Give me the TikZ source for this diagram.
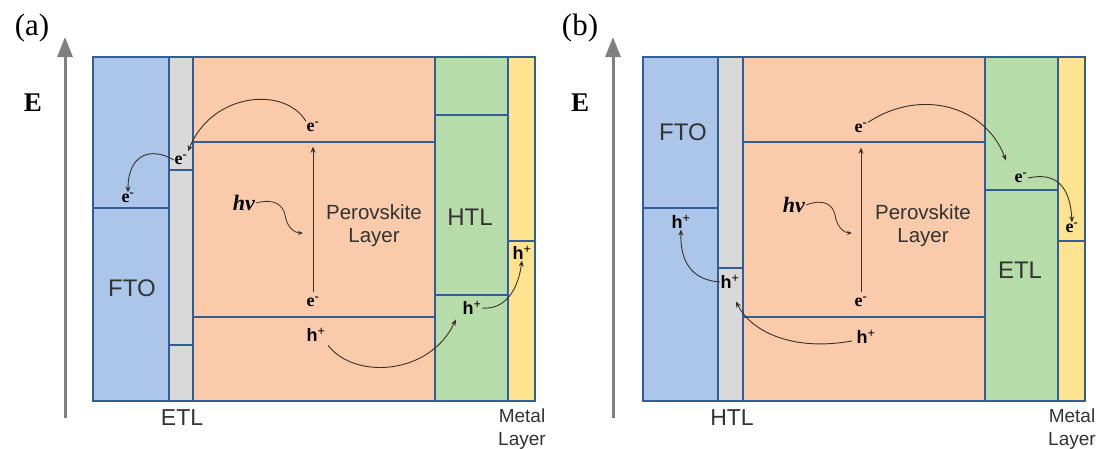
\documentclass[tikz,border=0pt]{standalone}
\usepackage{fontspec}
\setmainfont{Liberation Serif}
\setsansfont{Liberation Sans}
\usetikzlibrary{arrows.meta}
\definecolor{ftoc}{HTML}{ABC6E8}
\definecolor{etlg}{HTML}{D9D9D9}
\definecolor{perc}{HTML}{F9CBAA}
\definecolor{htlc}{HTML}{B6DDA9}
\definecolor{metc}{HTML}{FFE38F}
\definecolor{bordc}{HTML}{2F5E99}
\definecolor{axc}{HTML}{808080}
\definecolor{arrc}{HTML}{3B2F2A}
\definecolor{txtc}{HTML}{333333}
\newcommand{\myem}{\textbf{e}\textsuperscript{\textbf{-}}}
\newcommand{\myhp}{\textsf{\textbf{h}\textsuperscript{+}}}
\newcommand{\myhv}{\textbf{\textit{hv}}}
\tikzset{
  layer/.style={draw=bordc, line width=2pt},
  lvl/.style={draw=bordc, line width=2pt},
  axis/.style={draw=axc, line width=3pt, -{Triangle[length=20pt,width=15pt]}},
  car/.style={inner sep=0.5pt, font=\fontsize{18}{20}\selectfont, text=black},
  lab/.style={inner sep=0pt, font=\sffamily\fontsize{24}{26}\selectfont, text=txtc},
  blab/.style={inner sep=0pt, font=\sffamily\fontsize{23}{26}\selectfont, text=txtc},
  plab/.style={inner sep=0pt, align=center, font=\sffamily\fontsize{20.5}{23}\selectfont, text=txtc},
  mlab/.style={inner sep=0pt, align=center, font=\sffamily\fontsize{19}{23}\selectfont, text=txtc},
  elab/.style={inner sep=0pt, font=\bfseries\fontsize{27}{29}\selectfont},
  panel/.style={inner sep=0pt, font=\fontsize{31}{33}\selectfont},
  hvl/.style={inner sep=1pt, font=\fontsize{22}{24}\selectfont},
  flow/.style={draw=arrc, line width=0.9pt, -{Stealth[length=6pt,width=5pt]}},
}
\begin{document}
\begin{tikzpicture}[x=1pt,y=-1pt]
\useasboundingbox[fill=white] (0,0) rectangle (1098,448);

% ================= panel (a) =================
\node[panel] (pa) at (32,28) {(a)};
\node[elab] (Ea) at (33,103) {E};
\coordinate (axa0) at (65,418);
\coordinate (axa1) at (65,37);
\draw[axis] (axa0) -- (axa1);

% columns
\filldraw[fill=ftoc, layer] (93,57) rectangle (169,401);
\filldraw[fill=etlg, layer] (169,57) rectangle (193,401);
\filldraw[fill=perc, layer] (193,57) rectangle (435,401);
\filldraw[fill=htlc, layer] (435,57) rectangle (508,401);
\filldraw[fill=metc, layer] (508,57) rectangle (535,401);
% levels
\draw[lvl] (93,208) -- (169,208);
\draw[lvl] (169,170) -- (193,170);
\draw[lvl] (169,345) -- (193,345);
\draw[lvl] (193,142) -- (435,142);
\draw[lvl] (193,317) -- (435,317);
\draw[lvl] (435,115) -- (508,115);
\draw[lvl] (435,295) -- (508,295);
\draw[lvl] (508,241) -- (535,241);

% labels
\node[lab] (ftoa) at (132,288) {FTO};
\node[blab] (etla) at (182,418) {ETL};
\node[lab] (htla) at (470,217) {HTL};
\node[mlab] (meta) at (522,429) {Metal\\Layer};
\node[plab] (pera) at (374,226) {Perovskite\\Layer};

% carriers
\node[car] (ea1) at (313,127) {\myem};
\node[car] (ea2) at (181,160) {\myem};
\node[car] (ea3) at (128,198) {\myem};
\node[car] (ea4) at (313,302) {\myem};
\node[car] (ha1) at (316,335) {\myhp};
\node[car] (ha2) at (472,308) {\myhp};
\node[car] (ha3) at (522,253) {\myhp};
\node[hvl] (hva) at (244,203) {\myhv};
\coordinate (pha) at (303,233);

\draw[flow] (ea1.north west) .. controls (285,86) and (212,92) .. ([shift={(0,-3)}]ea2.north east);
\draw[flow] (ea2.west) .. controls (150,146) and (128,155) .. (ea3.north);
\draw[flow, shorten <=4pt, shorten >=14pt] (ea4.north) -- (ea1.south);
\draw[draw=arrc, line width=0.8pt, -{Stealth[length=5pt,width=4pt]}] (hva.east) .. controls (274,198) and (283,205) .. (285,215) .. controls (287,228) and (295,233) .. (pha);
\draw[flow] ([shift={(2,3)}]ha1.south east) .. controls (355,380) and (430,375) .. ([shift={(-6,4)}]ha2.south west);
\draw[flow] (ha2.east) .. controls (505,310) and (518,290) .. (ha3.south);

% ================= panel (b) =================
\node[panel] (pb) at (580,28) {(b)};
\node[elab] (Eb) at (580,103) {E};
\coordinate (axb0) at (613,418);
\coordinate (axb1) at (613,37);
\draw[axis] (axb0) -- (axb1);

\filldraw[fill=ftoc, layer] (643,57) rectangle (718,401);
\filldraw[fill=etlg, layer] (718,57) rectangle (743,401);
\filldraw[fill=perc, layer] (743,57) rectangle (985,401);
\filldraw[fill=htlc, layer] (985,57) rectangle (1058,401);
\filldraw[fill=metc, layer] (1058,57) rectangle (1085,401);
\draw[lvl] (643,208) -- (718,208);
\draw[lvl] (718,268) -- (743,268);
\draw[lvl] (743,142) -- (985,142);
\draw[lvl] (743,317) -- (985,317);
\draw[lvl] (985,190) -- (1058,190);
\draw[lvl] (1058,241) -- (1085,241);

\node[lab] (ftob) at (683,132) {FTO};
\node[blab] (htlb) at (732,418) {HTL};
\node[lab] (etlb) at (1020,270) {ETL};
\node[mlab] (metb) at (1072,429) {Metal\\Layer};
\node[plab] (perb) at (923,226) {Perovskite\\Layer};

\node[car] (eb1) at (861,128) {\myem};
\node[car] (eb2) at (1021,178) {\myem};
\node[car] (eb3) at (1072,228) {\myem};
\node[car] (eb4) at (861,302) {\myem};
\node[car] (hb1) at (866,337) {\myhp};
\node[car] (hb2) at (730,282) {\myhp};
\node[car] (hb3) at (681,222) {\myhp};
\node[hvl] (hvb) at (794,205) {\myhv};
\coordinate (phb) at (852,233);

\draw[flow] (eb1.north east) .. controls (920,88) and (985,105) .. ([shift={(-8,-12)}]eb2.north west);
\draw[flow] (eb2.east) .. controls (1055,172) and (1070,185) .. (eb3.north);
\draw[flow, shorten <=4pt, shorten >=14pt] (eb4.north) -- (eb1.south);
\draw[draw=arrc, line width=0.8pt, -{Stealth[length=5pt,width=4pt]}] (hvb.east) .. controls (824,198) and (833,205) .. (835,215) .. controls (837,228) and (845,233) .. (phb);
\draw[flow] ([shift={(-4,4)}]hb1.west) .. controls (790,352) and (750,330) .. ([shift={(6,12)}]hb2.south);
\draw[flow] (hb2.west) .. controls (692,280) and (680,262) .. (hb3.south);

\end{tikzpicture}
\end{document}
